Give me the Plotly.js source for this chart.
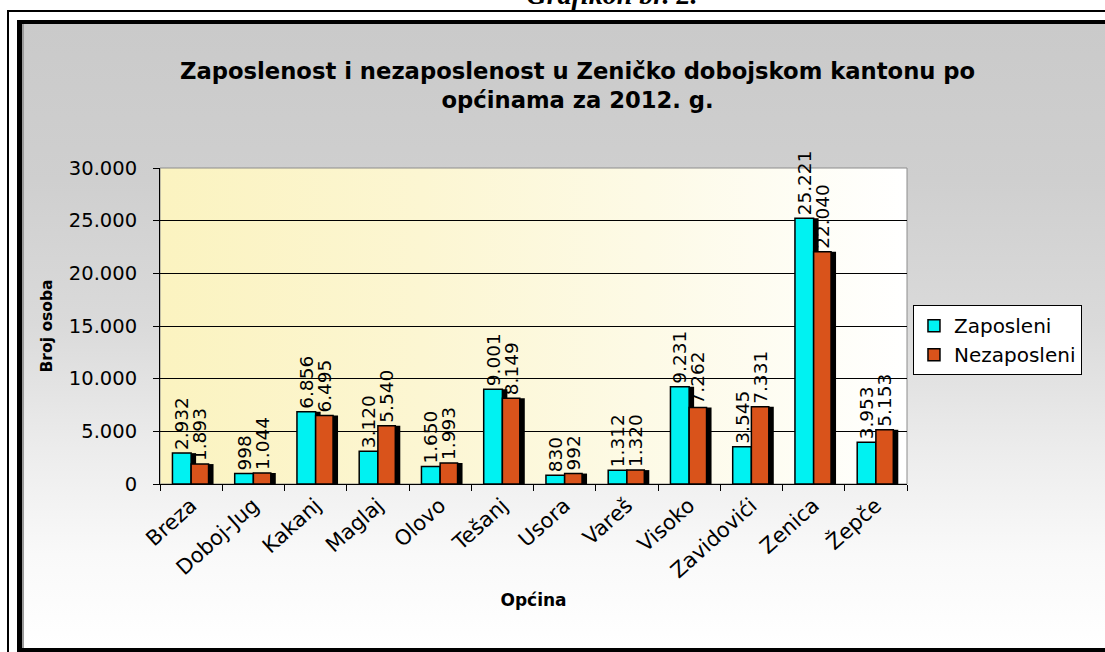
<!DOCTYPE html>
<html>
<head>
<meta charset="utf-8">
<script src="https://cdn.plot.ly/plotly-3.0.1.min.js"></script>
<style>
  html, body { margin: 0; padding: 0; width: 1105px; height: 652px; overflow: hidden; background: #ffffff; }
  #cap { position: absolute; left: 612px; top: -19px; transform: translateX(-50%);
         font: italic bold 28px "Liberation Serif", serif; line-height: 28px; color: #000; white-space: nowrap; }
  #thin { position: absolute; left: 7px; top: 10px; width: 1200px; height: 700px;
          border-left: 2px solid #000; border-top: 2px solid #000; box-sizing: border-box; }
  #thick { position: absolute; left: 17px; top: 20px; width: 1200px; height: 632px;
           border-left: 5px solid #000; border-top: 4px solid #000; border-bottom: 4px solid #000; box-sizing: border-box; }
  #frame { position: absolute; left: 22px; top: 24px; width: 1083px; height: 624px;
           background: linear-gradient(to bottom, #cacaca 0%, #cfcfcf 25%, #dadada 48%, #ececec 68%, #f9f9f9 85%, #ffffff 100%);
           border-left: 2px solid #9a9a9a; box-sizing: border-box; }
  #plotbg { position: absolute; left: 160px; top: 168px; width: 747px; height: 316px;
            background: linear-gradient(to right, #fbf3c0 0%, #fcf6d2 35%, #fdfae6 65%, #ffffff 100%); }
  #chart { position: absolute; left: 22px; top: 24px; width: 1083px; height: 624px; }
</style>
</head>
<body>
<div id="cap">Grafikon br. 2.</div>
<div id="thin"></div>
<div id="thick"></div>
<div id="frame"></div>
<div id="plotbg"></div>
<div id="chart"></div>
<script>
const categories = ['Breza', 'Doboj-Jug', 'Kakanj', 'Maglaj', 'Olovo', 'Tešanj', 'Usora', 'Vareš', 'Visoko', 'Zavidovići', 'Zenica', 'Žepče'];
const zaposleni   = [2932, 998, 6856, 3120, 1650, 9001, 830, 1312, 9231, 3545, 25221, 3953];
const nezaposleni = [1893, 1044, 6495, 5540, 1993, 8149, 992, 1320, 7262, 7331, 22040, 5153];
const yTicks = [0, 5000, 10000, 15000, 20000, 25000, 30000];

const FONT = 'DejaVu Sans, Arial, sans-serif';
const cyan = '#00f2f2';
const orange = '#d9531b';

const traces = [
  { type: 'bar', x: categories, y: zaposleni, offset: -0.22, width: 0.30,
    marker: { color: '#000000' }, showlegend: false, hoverinfo: 'skip' },
  { type: 'bar', name: 'Zaposleni', x: categories, y: zaposleni, offset: -0.30, width: 0.30,
    marker: { color: cyan, line: { color: '#000000', width: 1.5 } },
    texttemplate: '%{y:,}', textposition: 'outside', textangle: -90, cliponaxis: false,
    constraintext: 'none', textfont: { family: FONT, size: 18.5, color: '#000000' } },
  { type: 'bar', x: categories, y: nezaposleni, offset: 0.08, width: 0.28,
    marker: { color: '#000000' }, showlegend: false, hoverinfo: 'skip' },
  { type: 'bar', name: 'Nezaposleni', x: categories, y: nezaposleni, offset: 0.0, width: 0.28,
    marker: { color: orange, line: { color: '#000000', width: 1.5 } },
    texttemplate: '%{y:,}', textposition: 'outside', textangle: -90, cliponaxis: false,
    constraintext: 'none', textfont: { family: FONT, size: 18.5, color: '#000000' } }
];

const layout = {
  width: 1083, height: 624,
  margin: { l: 138, r: 198, t: 144, b: 164, pad: 0 },
  paper_bgcolor: 'rgba(0,0,0,0)',
  plot_bgcolor: 'rgba(0,0,0,0)',
  separators: ',.',
  barmode: 'overlay',
  font: { family: FONT, color: '#000000' },
  title: {
    text: 'Zaposlenost i nezaposlenost u Zeničko dobojskom kantonu po<br>općinama za 2012. g.',
    font: { family: FONT, size: 22.7, color: '#000000', weight: 'bold' },
    xref: 'container', x: 0.513, xanchor: 'center',
    yref: 'container', y: 0.912, yanchor: 'top'
  },
  xaxis: {
    type: 'category', automargin: false,
    tickangle: -42, tickfont: { family: FONT, size: 21, color: '#000000' },
    ticks: 'outside', tickson: 'boundaries', ticklen: 6, tickcolor: '#000000',
    showline: true, linecolor: '#000000', linewidth: 1,
    showgrid: false,
    title: { text: 'Općina', font: { family: FONT, size: 17, color: '#000000', weight: 'bold' }, standoff: 12 }
  },
  yaxis: {
    range: [0, 30000], tickvals: yTicks, tickformat: ',d', automargin: false,
    tickfont: { family: FONT, size: 19.5, color: '#000000' },
    ticks: 'outside', ticklen: 6, tickcolor: '#000000', ticklabelstandoff: 12,
    showline: true, linecolor: '#000000', linewidth: 1,
    showgrid: true, gridcolor: '#000000', gridwidth: 1, zeroline: false,
    title: { text: 'Broj osoba', font: { family: FONT, size: 15.5, color: '#000000', weight: 'bold' }, standoff: 12 }
  },
  legend: {
    x: 1.008, xanchor: 'left', y: 0.566, yanchor: 'top',
    bgcolor: '#ffffff', bordercolor: '#000000', borderwidth: 1,
    font: { family: FONT, size: 20, color: '#000000' },
    itemwidth: 30
  },
  shapes: [
    { type: 'rect', xref: 'paper', yref: 'paper', x0: 0, x1: 1, y0: 0, y1: 1,
      line: { color: '#8c8c8c', width: 1 }, layer: 'below' }
  ]
};

Plotly.newPlot('chart', traces, layout, { staticPlot: true, displayModeBar: false });
</script>
</body>
</html>
